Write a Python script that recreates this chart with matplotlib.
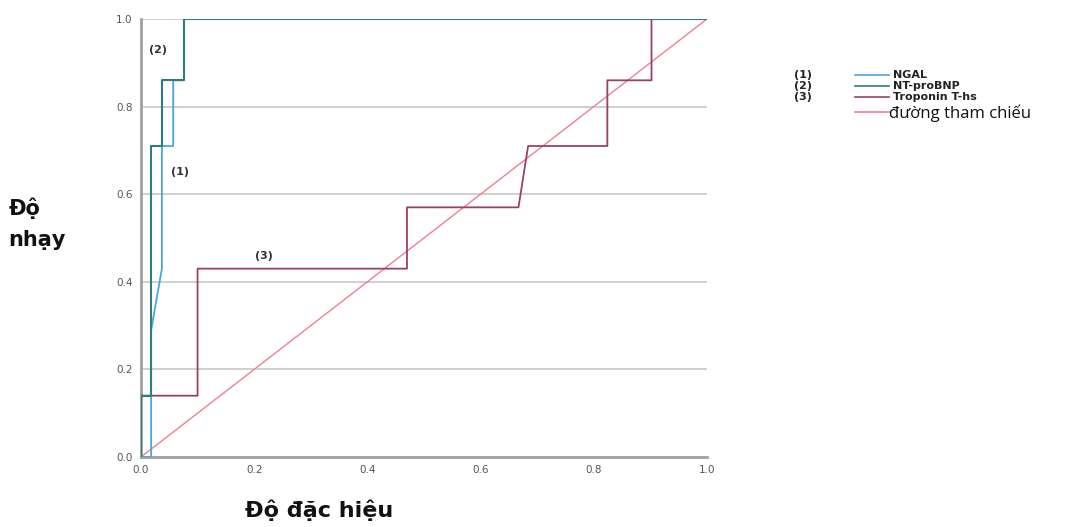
import matplotlib
matplotlib.use("Agg")
import matplotlib.pyplot as plt
from matplotlib.lines import Line2D

# ---- data (1 - specificity, sensitivity) ----
ngal_x = [0.0, 0.018, 0.018, 0.037, 0.037, 0.057, 0.057, 0.076, 0.076, 1.0]
ngal_y = [0.0, 0.0, 0.29, 0.43, 0.71, 0.71, 0.86, 0.86, 1.0, 1.0]

bnp_x = [0.0, 0.0, 0.018, 0.018, 0.037, 0.037, 0.076, 0.076, 1.0]
bnp_y = [0.0, 0.14, 0.14, 0.71, 0.71, 0.86, 0.86, 1.0, 1.0]

trop_x = [0.0, 0.0, 0.10, 0.10, 0.47, 0.47, 0.667, 0.684, 0.824, 0.824, 0.902, 0.902, 1.0]
trop_y = [0.0, 0.14, 0.14, 0.43, 0.43, 0.57, 0.57, 0.71, 0.71, 0.86, 0.86, 1.0, 1.0]

ref_x = [0.0, 1.0]
ref_y = [0.0, 1.0]

ticks = [0.0, 0.2, 0.4, 0.6, 0.8, 1.0]
tick_labels = ["0.0", "0.2", "0.4", "0.6", "0.8", "1.0"]
legend_nums = ["(1)", "(2)", "(3)", ""]
legend_names = ["NGAL", "NT-proBNP", "Troponin T-hs", "đường tham chiếu"]

c_ngal = "#4aa8d8"
c_bnp = "#2f7b7e"
c_trop = "#9a4068"
c_ref = "#ee8090"
colors = [c_ngal, c_bnp, c_trop, c_ref]

fig = plt.figure(figsize=(10.81, 5.27), dpi=100)
ax = fig.add_axes([0.1304, 0.1328, 0.5236, 0.8312])

for y in ticks[1:]:
    ax.plot([0, 1], [y, y], color="#cfcfcf", lw=1.4, zorder=0)

ax.plot(ref_x, ref_y, color=c_ref, lw=1.0, zorder=2)
ax.plot(trop_x, trop_y, color=c_trop, lw=1.3, zorder=3)
ax.plot(ngal_x, ngal_y, color=c_ngal, lw=1.3, zorder=4)
ax.plot(bnp_x, bnp_y, color=c_bnp, lw=1.5, zorder=5)

ax.set_xlim(0, 1.0)
ax.set_ylim(0, 1.0)
ax.set_xticks(ticks)
ax.set_xticklabels(tick_labels)
ax.set_yticks(ticks)
ax.set_yticklabels(tick_labels)
ax.tick_params(length=0, labelsize=7.5, colors="#555555", pad=6)
for s in ["top", "right"]:
    ax.spines[s].set_visible(False)
for s in ["left", "bottom"]:
    ax.spines[s].set_color("#a0a0a0")
    ax.spines[s].set_linewidth(2)
ax.margins(0)
for sp in ax.spines.values():
    sp.set_clip_on(False)

ax.text(0.03, 0.93, "(2)", fontsize=8, fontweight="bold", color="#333333", ha="center", va="center")
ax.text(0.069, 0.65, "(1)", fontsize=8, fontweight="bold", color="#333333", ha="center", va="center")
ax.text(0.217, 0.46, "(3)", fontsize=8, fontweight="bold", color="#333333", ha="center", va="center")

fig.text(0.008, 0.575, "Độ\nnhạy", fontsize=15, fontweight="bold", ha="left", va="center",
         linespacing=1.7, color="#111111")
fig.text(0.295, 0.032, "Độ đặc hiệu", fontsize=16, fontweight="bold", ha="center", va="center",
         color="#111111")

# legend drawn in figure coordinates
row_y = [75, 86, 97, 112]
for i in range(4):
    yf = 1 - row_y[i] / 527
    if legend_nums[i]:
        fig.text(794 / 1081, yf, legend_nums[i], fontsize=8, fontweight="bold", ha="left", va="center",
                 color="#222222")
    fig.add_artist(Line2D([855 / 1081, 889 / 1081], [yf, yf], color=colors[i], lw=1.2,
                          transform=fig.transFigure))
    if i < 3:
        fig.text(893 / 1081, yf, legend_names[i], fontsize=8, fontweight="bold", ha="left", va="center",
                 color="#222222")
    else:
        fig.text(889 / 1081, yf - 0.003, legend_names[i], fontsize=12, ha="left", va="center",
                 family="Open Sans", color="#111111")

fig.savefig("out.png", dpi=100, facecolor="white")
